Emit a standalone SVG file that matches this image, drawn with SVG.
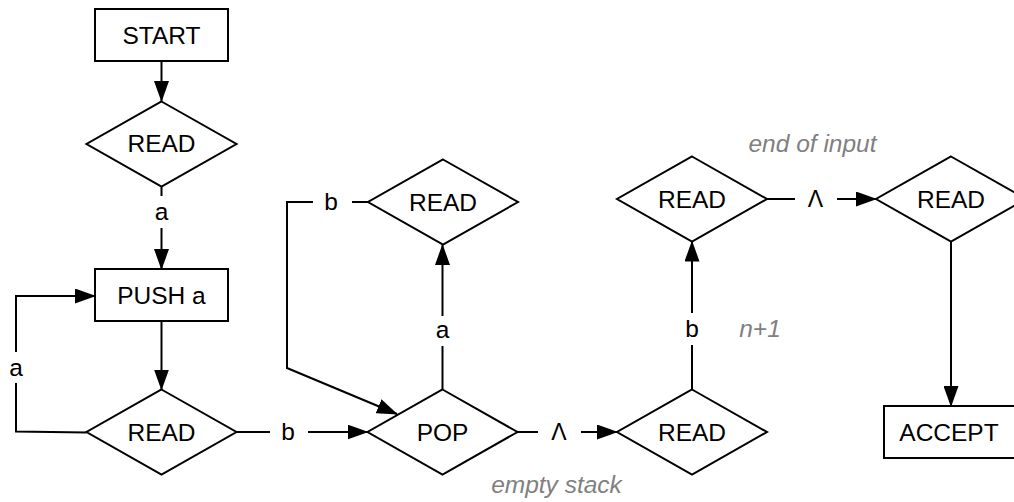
<svg xmlns="http://www.w3.org/2000/svg" width="1014" height="502" viewBox="0 0 1014 502">
<style>
.box{fill:#fff;stroke:#000;stroke-width:2}
.t{font-family:"Liberation Sans",Arial,sans-serif;font-size:24.5px;fill:#000;text-anchor:middle}
.g{font-family:"Liberation Sans",Arial,sans-serif;font-size:24.5px;fill:#808080;font-style:italic;text-anchor:middle}
.lam{font-size:23px}
.c{fill:none;stroke:#000;stroke-width:2}
</style>
<defs>
<marker id="ah" markerUnits="userSpaceOnUse" markerWidth="21" markerHeight="15" refX="20" refY="7.5" orient="auto">
<path d="M0,0 L21,7.5 L0,15 z" fill="#000"/>
</marker>
</defs>
<rect width="1014" height="502" fill="#fff"/>
<g id="connectors">
<line class="c" x1="161.5" y1="61" x2="161.5" y2="101" marker-end="url(#ah)"/>
<line class="c" x1="161.5" y1="186" x2="161.5" y2="196"/>
<line class="c" x1="161.5" y1="228" x2="161.5" y2="269" marker-end="url(#ah)"/>
<text class="t" x="161.5" y="220">a</text>
<line class="c" x1="161.5" y1="321" x2="161.5" y2="389.5" marker-end="url(#ah)"/>
<polyline class="c" points="86.5,432.5 16,431.5 16,383"/>
<polyline class="c" points="16,352 16,296 95,296" marker-end="url(#ah)"/>
<text class="t" x="16" y="376">a</text>
<line class="c" x1="236.5" y1="432" x2="270" y2="432"/>
<text class="t" x="288" y="440">b</text>
<line class="c" x1="308" y1="432" x2="367.5" y2="432" marker-end="url(#ah)"/>
<line class="c" x1="442.5" y1="389.5" x2="442.5" y2="346"/>
<text class="t" x="442.5" y="338">a</text>
<line class="c" x1="442.5" y1="316" x2="442.5" y2="245" marker-end="url(#ah)"/>
<line class="c" x1="368" y1="202" x2="352" y2="202"/>
<text class="t" x="331" y="210">b</text>
<polyline class="c" points="313,202 287,202 287,368 397,414" marker-end="url(#ah)"/>
<line class="c" x1="517.5" y1="432" x2="538" y2="432"/>
<text class="t lam" x="559" y="440">Λ</text>
<line class="c" x1="581" y1="432" x2="617" y2="432" marker-end="url(#ah)"/>
<line class="c" x1="692" y1="389.5" x2="692" y2="345"/>
<text class="t" x="692" y="336.5">b</text>
<line class="c" x1="692" y1="313" x2="692" y2="241.5" marker-end="url(#ah)"/>
<line class="c" x1="767" y1="199" x2="795" y2="199"/>
<text class="t lam" x="815.5" y="207">Λ</text>
<line class="c" x1="837" y1="199" x2="876" y2="199" marker-end="url(#ah)"/>
<line class="c" x1="951" y1="241.5" x2="951" y2="406" marker-end="url(#ah)"/>
</g>
<g id="start">
<rect class="box" x="95" y="9" width="133" height="52"/>
<text class="t" x="161.5" y="43.5">START</text>
</g>
<g id="read1">
<polygon class="box" points="161.5,101.5 236.5,144 161.5,186.5 86.5,144"/>
<text class="t" x="161.5" y="152">READ</text>
</g>
<g id="push">
<rect class="box" x="95" y="269" width="133" height="52"/>
<text class="t" x="161.5" y="303.5">PUSH a</text>
</g>
<g id="read2">
<polygon class="box" points="161.5,389.5 236.5,432 161.5,474.5 86.5,432"/>
<text class="t" x="161.5" y="440.5">READ</text>
</g>
<g id="pop">
<polygon class="box" points="442.5,389.5 517.5,432 442.5,474.5 367.5,432"/>
<text class="t" x="442.5" y="440.5">POP</text>
</g>
<g id="read3">
<polygon class="box" points="443,159.5 518,202 443,244.5 368,202"/>
<text class="t" x="443" y="210.5">READ</text>
</g>
<g id="read4">
<polygon class="box" points="692,389.5 767,432 692,474.5 617,432"/>
<text class="t" x="692" y="440.5">READ</text>
</g>
<g id="read5">
<polygon class="box" points="692,156.5 767,199 692,241.5 617,199"/>
<text class="t" x="692" y="207.5">READ</text>
</g>
<g id="read6">
<polygon class="box" points="951,156.5 1026,199 951,241.5 876,199"/>
<text class="t" x="951" y="207.5">READ</text>
</g>
<g id="accept">
<rect class="box" x="884" y="406" width="134" height="52"/>
<text class="t" x="949" y="440.5">ACCEPT</text>
</g>
<g id="notes">
<text class="g" x="812.5" y="152">end of input</text>
<text class="g" x="760" y="336.5">n+1</text>
<text class="g" x="556.5" y="493">empty stack</text>
</g>
</svg>
